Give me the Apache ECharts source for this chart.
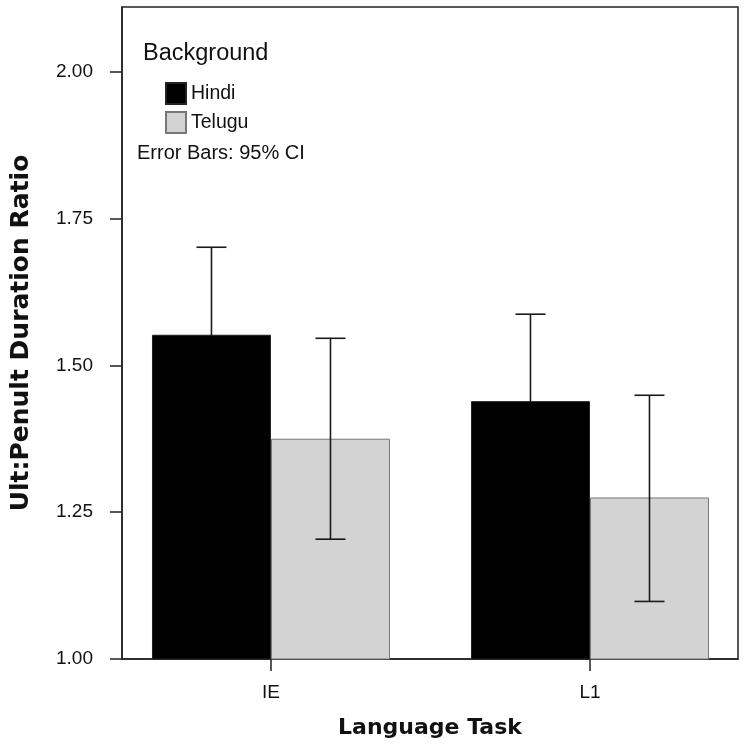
<!DOCTYPE html>
<html>
<head>
<meta charset="utf-8">
<script src="https://cdn.jsdelivr.net/npm/echarts@6/dist/echarts.min.js"></script>
<style>html,body{margin:0;padding:0;background:#fff}#c{width:750px;height:750px}</style>
</head>
<body>
<div id="c"></div>
<script>
// ---- data ----
var categories = ['IE', 'L1'];
var groups = ['Hindi', 'Telugu'];
var hindiMean = [1.552, 1.439];
var hindiLow = [1.402, 1.291];
var hindiHigh = [1.701, 1.587];
var teluguMean = [1.375, 1.275];
var teluguLow = [1.204, 1.098];
var teluguHigh = [1.546, 1.449];
var yTicks = [1.00, 1.25, 1.50, 1.75, 2.00];
var catPositions = [0, 1];

// ---- styles ----
var BAR_W = 119;
var regFont = 'Liberation Sans, Arial, sans-serif';
var boldFont = 'DejaVu Sans, Verdana, sans-serif';
var txt = '#111';

function barData(vals) { return vals.map(function (v, i) { return [catPositions[i], v]; }); }
function errData(low, high, side) {
  return low.map(function (l, i) { return [catPositions[i], l, high[i], side]; });
}
function renderErr(params, api) {
  var x = api.value(0), lo = api.value(1), hi = api.value(2), side = api.value(3);
  var pHi = api.coord([x, hi]);
  var pLo = api.coord([x, lo]);
  var cx = pHi[0] + side * BAR_W / 2;
  var cap = 15;
  var st = { stroke: '#1a1a1a', lineWidth: 1.6 };
  return {
    type: 'group',
    children: [
      { type: 'line', shape: { x1: cx, y1: pLo[1], x2: cx, y2: pHi[1] }, style: st },
      { type: 'line', shape: { x1: cx - cap, y1: pHi[1], x2: cx + cap, y2: pHi[1] }, style: st },
      { type: 'line', shape: { x1: cx - cap, y1: pLo[1], x2: cx + cap, y2: pLo[1] }, style: st }
    ]
  };
}

var chart = echarts.init(document.getElementById('c'), null, { renderer: 'canvas' });
chart.setOption({
  animation: false,
  backgroundColor: '#fff',
  grid: { left: 122, right: 12, top: 7, bottom: 91, show: true, borderColor: '#222', borderWidth: 1.5, backgroundColor: 'transparent' },
  legend: {
    data: groups,
    orient: 'vertical',
    left: 165, top: 82, padding: 0,
    itemWidth: 20, itemHeight: 21, itemGap: 6,
    icon: 'rect',
    selectedMode: false,
    textStyle: { fontFamily: regFont, fontSize: 19.5, color: txt }
  },
  graphic: [
    { type: 'text', left: 143, top: 42, style: { text: 'Background', font: '23.5px ' + regFont, fill: txt } },
    { type: 'text', left: 137, top: 143, style: { text: 'Error Bars: 95% CI', font: '20px ' + regFont, fill: txt } }
  ],
  xAxis: {
    type: 'value',
    min: -0.467, max: 1.464,
    splitLine: { show: false },
    axisLine: { show: true, onZero: false, lineStyle: { color: '#222', width: 1.5 } },
    axisTick: { show: true, customValues: catPositions, length: 12, lineStyle: { color: '#222', width: 1.5 } },
    axisLabel: {
      customValues: catPositions, margin: 24,
      formatter: function (v) { return categories[Math.round(v)]; },
      fontFamily: regFont, fontSize: 19, color: txt
    },
    name: 'Language Task', nameLocation: 'middle', nameGap: 58,
    nameTextStyle: { fontFamily: boldFont, fontWeight: 'bold', fontSize: 22, color: txt }
  },
  yAxis: {
    type: 'value',
    min: 1, max: 2.11,
    splitLine: { show: false },
    axisLine: { show: true, onZero: false, lineStyle: { color: '#222', width: 1.5 } },
    axisTick: { show: true, customValues: yTicks, length: 12, lineStyle: { color: '#222', width: 1.5 } },
    axisLabel: {
      customValues: yTicks, margin: 29,
      formatter: function (v) { return v.toFixed(2); },
      fontFamily: regFont, fontSize: 19, color: txt
    },
    name: 'Ult:Penult Duration Ratio', nameLocation: 'middle', nameGap: 88,
    nameTextStyle: { fontFamily: boldFont, fontWeight: 'bold', fontSize: 25, color: txt }
  },
  series: [
    { name: 'Hindi', type: 'bar', data: barData(hindiMean), barWidth: BAR_W, barGap: '0%', z: 2,
      itemStyle: { color: '#000', borderColor: '#222', borderWidth: 1 } },
    { name: 'Telugu', type: 'bar', data: barData(teluguMean), barWidth: BAR_W, barGap: '0%', z: 2,
      itemStyle: { color: '#d3d3d3', borderColor: '#777', borderWidth: 1 } },
    { name: 'errH', type: 'custom', data: errData(hindiLow, hindiHigh, -1), renderItem: renderErr, z: 1, encode: { x: 0, y: [1, 2] } },
    { name: 'errT', type: 'custom', data: errData(teluguLow, teluguHigh, 1), renderItem: renderErr, z: 5, encode: { x: 0, y: [1, 2] } }
  ]
});
</script>
</body>
</html>
